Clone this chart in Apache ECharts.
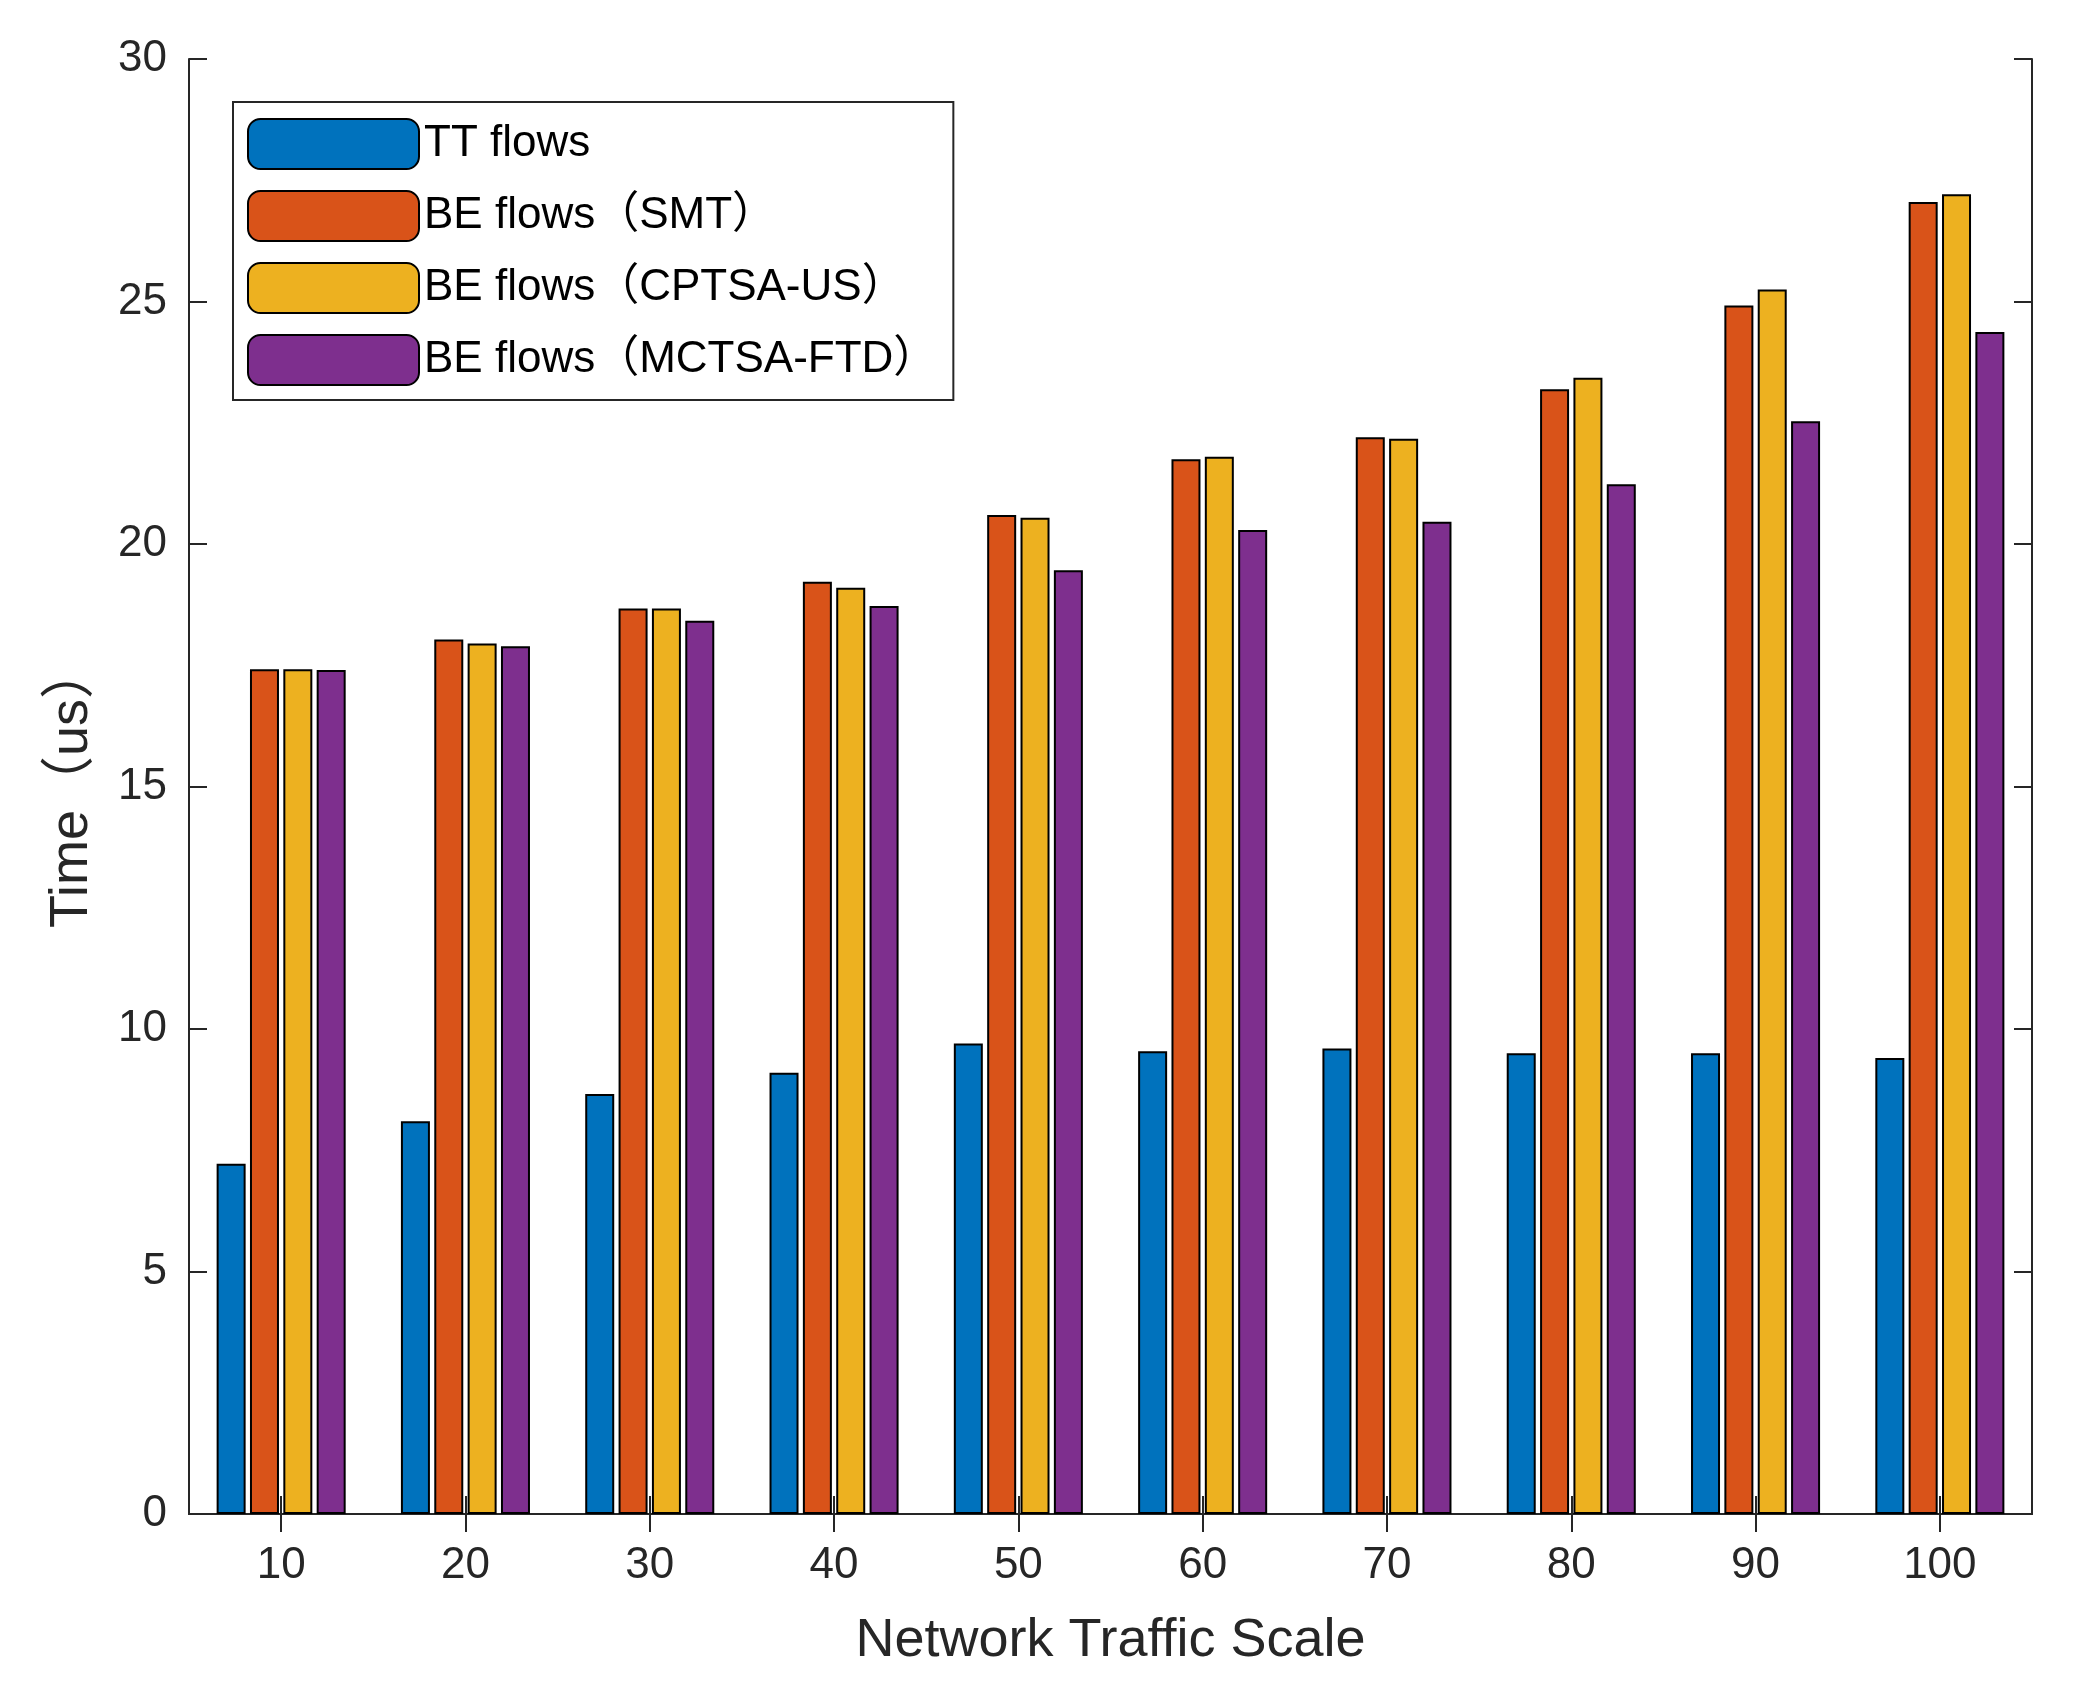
<!DOCTYPE html>
<html>
<head>
<meta charset="utf-8">
<script src="https://cdn.jsdelivr.net/npm/echarts@6/dist/echarts.min.js"></script>
<style>html,body{margin:0;padding:0;background:#fff}#chart{width:2073px;height:1700px}</style>
</head>
<body>
<div id="chart"></div>
<script>
// 数据
var categories = ['10','20','30','40','50','60','70','80','90','100'];
var ttFlows = [7.22, 8.1, 8.66, 9.1, 9.7, 9.54, 9.6, 9.5, 9.5, 9.4];
var beSMT = [17.42, 18.03, 18.67, 19.22, 20.6, 21.75, 22.2, 23.19, 24.92, 27.05];
var beCPTSA = [17.42, 17.95, 18.67, 19.1, 20.54, 21.8, 22.17, 23.43, 25.25, 27.21];
var beMCTSA = [17.4, 17.89, 18.42, 18.72, 19.46, 20.29, 20.46, 21.23, 22.53, 24.37];

var font = '"Liberation Sans", "Noto Sans CJK SC", sans-serif';
var axisCommon = {
    axisLine: { show: true, lineStyle: { color: '#262626', width: 2 } },
    splitLine: { show: false }
};

function bar(name, data, color) {
    return {
        name: name, type: 'bar', data: data,
        barWidth: 29, barGap: '15%',
        itemStyle: { color: color, borderColor: '#000', borderWidth: 2 }
    };
}

var chart = echarts.init(document.getElementById('chart'));
chart.setOption({
    backgroundColor: '#fff',
    textStyle: { fontFamily: font },
    grid: { left: 189, right: 41, top: 59, bottom: 186 },
    legend: {
        left: 233, top: 102, orient: 'vertical',
        itemWidth: 171, itemHeight: 50, itemGap: 20,
        padding: [16, 16, 14, 14],
        borderColor: '#262626', borderWidth: 2,
        width: 813,
        textStyle: { fontSize: 44, color: '#000', fontFamily: font, width: 590 },
        data: ['TT flows', 'BE flows（SMT）', 'BE flows（CPTSA-US）', 'BE flows（MCTSA-FTD）']
    },
    xAxis: [
        Object.assign({
            type: 'category', data: categories, position: 'bottom',
            name: 'Network Traffic Scale', nameLocation: 'middle', nameGap: 100,
            nameTextStyle: { fontSize: 54, color: '#262626' },
            axisTick: { show: true, inside: true, alignWithLabel: true, length: 18, lineStyle: { color: '#262626', width: 2 } },
            axisLabel: { fontSize: 44, color: '#262626', margin: 30 }
        }, axisCommon),
        Object.assign({
            type: 'category', data: categories, position: 'top',
            axisTick: { show: true, inside: true, alignWithLabel: true, length: 18, lineStyle: { color: '#262626', width: 2 } },
            axisLabel: { show: false }
        }, axisCommon)
    ],
    yAxis: [
        Object.assign({
            type: 'value', min: 0, max: 30, interval: 5, position: 'left',
            name: 'Time（us）', nameLocation: 'middle', nameGap: 90, nameRotate: 90,
            nameTextStyle: { fontSize: 54, color: '#262626' },
            axisTick: { show: true, inside: true, length: 18, lineStyle: { color: '#262626', width: 2 } },
            axisLabel: { fontSize: 44, color: '#262626', margin: 22 }
        }, axisCommon),
        Object.assign({
            type: 'value', min: 0, max: 30, interval: 5, position: 'right',
            axisTick: { show: true, inside: true, length: 18, lineStyle: { color: '#262626', width: 2 } },
            axisLabel: { show: false }
        }, axisCommon)
    ],
    series: [
        bar('TT flows', ttFlows, '#0072BD'),
        bar('BE flows（SMT）', beSMT, '#D95319'),
        bar('BE flows（CPTSA-US）', beCPTSA, '#EDB120'),
        bar('BE flows（MCTSA-FTD）', beMCTSA, '#7E2F8E')
    ]
});
</script>
</body>
</html>
